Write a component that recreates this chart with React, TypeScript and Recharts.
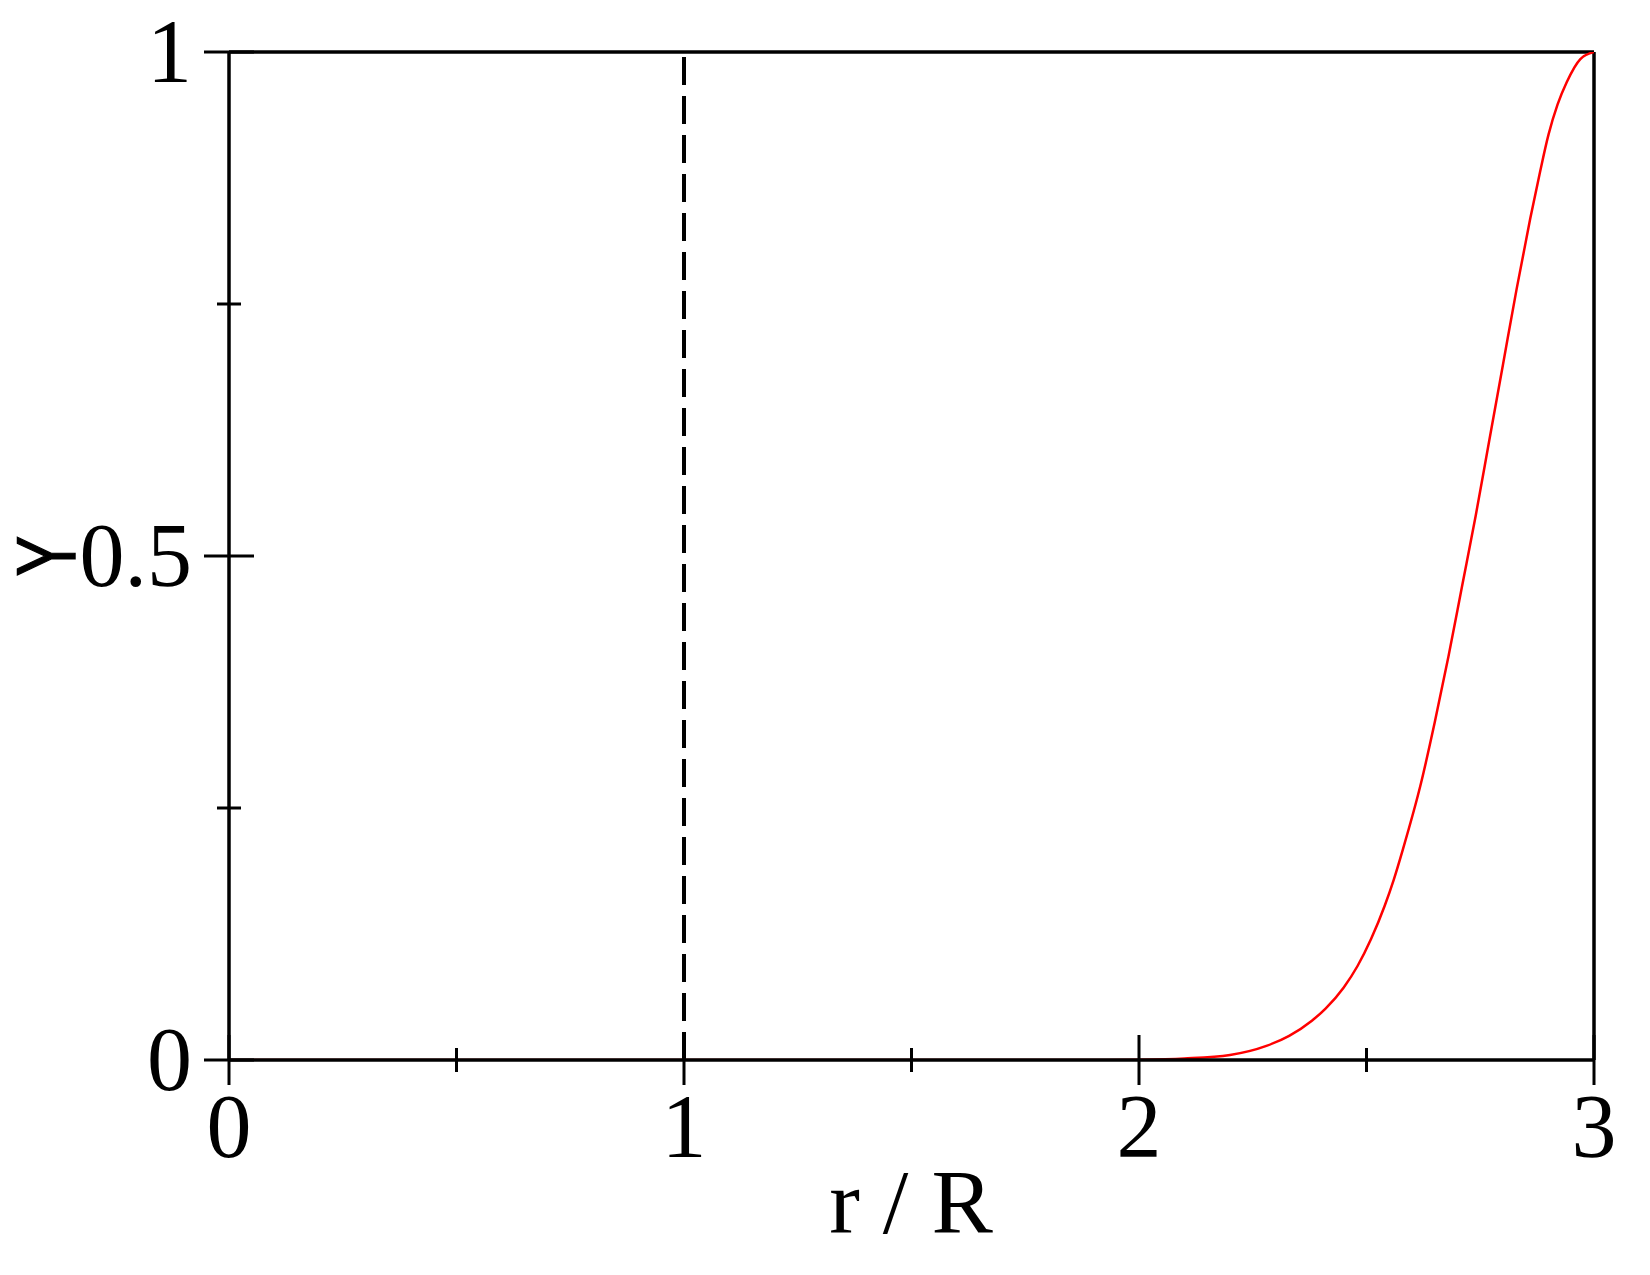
import React from 'react';
import {
  LineChart,
  Line,
  XAxis,
  YAxis,
  ReferenceLine
} from 'recharts';

// curve
const rValues = [
  0, 0.5, 1, 1.5, 1.9, 2.0, 2.1, 2.2, 2.28, 2.33, 2.38, 2.41, 2.45, 2.48,
  2.51, 2.54, 2.56, 2.58, 2.62, 2.65, 2.68, 2.71, 2.74, 2.77, 2.8, 2.83, 2.86,
  2.88, 2.9, 2.92, 2.94, 2.97, 3.0
];
const yValues = [
  0, 0, 0, 0, 0, 0.0003, 0.0015, 0.005, 0.014, 0.024, 0.039, 0.051, 0.072, 0.093,
  0.12, 0.153, 0.179, 0.209, 0.275, 0.335, 0.4, 0.47, 0.54, 0.615, 0.69, 0.765, 0.835,
  0.878, 0.918, 0.948, 0.97, 0.993, 1.0
];

const xTicks = [0, 0.5, 1, 1.5, 2, 2.5, 3];
const yTicks = [0, 0.25, 0.5, 0.75, 1];
const xMajor = [0, 1, 2, 3];
const yMajor = [0, 0.5, 1];
const dividerR = 1;

const data = rValues.map((r, i) => ({ r, y: yValues[i] }));

const SERIF = '"Liberation Serif", "Times New Roman", serif';
const AXIS_W = 3.5;

const XTick = (props: any) => {
  const { x, y, payload } = props;
  const major = xMajor.includes(payload.value);
  const len = major ? 25 : 12;
  return (
    <g>
      <line x1={x} x2={x} y1={y - len} y2={y + len} stroke="#000" strokeWidth={3} />
      {major && (
        <text x={x} y={y + 97} textAnchor="middle" fontFamily={SERIF} fontSize={90} fill="#000">
          {payload.value}
        </text>
      )}
    </g>
  );
};

const YTick = (props: any) => {
  const { x, y, payload } = props;
  const major = yMajor.includes(payload.value);
  const len = major ? 25 : 12;
  return (
    <g>
      <line x1={x - len} x2={x + len} y1={y} y2={y} stroke="#000" strokeWidth={3} />
      {major && (
        <text x={x - 37} y={y + 30} textAnchor="end" fontFamily={SERIF} fontSize={90} fill="#000">
          {payload.value}
        </text>
      )}
    </g>
  );
};

export default function App() {
  return (
    <div style={{ position: 'absolute', left: 0, top: 0, background: '#fff' }}>
      <LineChart
        width={1650}
        height={1275}
        data={data}
        margin={{ top: 52, right: 56, bottom: 0, left: 0 }}
      >
        <XAxis
          dataKey="r"
          type="number"
          domain={[0, 3]}
          ticks={xTicks}
          interval={0}
          height={215}
          tickSize={0}
          tickMargin={0}
          tickLine={false}
          tick={<XTick />}
          axisLine={{ stroke: '#000', strokeWidth: AXIS_W }}
          allowDataOverflow
        />
        <YAxis
          type="number"
          domain={[0, 1]}
          ticks={yTicks}
          interval={0}
          width={229}
          tickSize={0}
          tickMargin={0}
          tickLine={false}
          tick={<YTick />}
          axisLine={{ stroke: '#000', strokeWidth: AXIS_W }}
          allowDataOverflow
        />
        <ReferenceLine y={1} stroke="#000" strokeWidth={AXIS_W} />
        <ReferenceLine x={3} stroke="#000" strokeWidth={AXIS_W} />
        <ReferenceLine
          segment={[{ x: dividerR, y: 0 }, { x: dividerR, y: 1 }]}
          stroke="#000"
          strokeWidth={4}
          strokeDasharray="28 11"
        />
        <Line
          type="monotone"
          dataKey="y"
          stroke="#ff0000"
          strokeWidth={2.5}
          dot={false}
          isAnimationActive={false}
        />
        <text
          x={911}
          y={1233}
          textAnchor="middle"
          fontFamily={SERIF}
          fontSize={92}
          fill="#000"
        >
          r / R
        </text>
        <text
          x={0}
          y={0}
          textAnchor="middle"
          transform="translate(75, 556) rotate(-90) scale(0.72, 1)"
          fontFamily='"Liberation Sans", Arial, sans-serif'
          fontSize={84}
          fill="#000"
          stroke="#000"
          strokeWidth={1.5}
        >
          Y
        </text>
      </LineChart>
    </div>
  );
}
